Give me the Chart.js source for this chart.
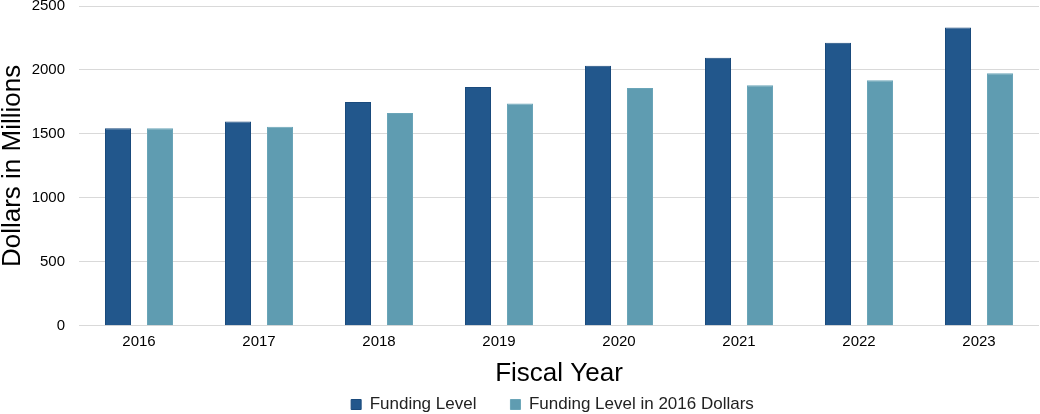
<!DOCTYPE html>
<html>
<head>
<meta charset="utf-8">
<script src="https://cdn.jsdelivr.net/npm/chart.js@4"></script>
<style>
html,body{margin:0;padding:0;background:#fff;overflow:hidden;}
#wrap{width:1040px;height:414px;overflow:hidden;position:relative;}
#c{position:absolute;left:0;top:-17px;}
</style>
</head>
<body>
<div id="wrap"><canvas id="c" width="1040" height="442"></canvas></div>
<script>
const categories = ["2016","2017","2018","2019","2020","2021","2022","2023"];
const fundingLevel = [1545, 1598, 1750, 1866, 2033, 2095, 2212, 2332];
const funding2016Dollars = [1545, 1557, 1663, 1737, 1858, 1880, 1920, 1975];
const yTicks = [0, 500, 1000, 1500, 2000, 2500];

Chart.defaults.font.family = "'Liberation Sans', Arial, sans-serif";
Chart.defaults.color = "#000";

const shiftLegend = {
  id: 'shiftLegend',
  afterLayout(chart) {
    if (chart.legend) { chart.legend.left += 33; chart.legend.right += 33; }
  }
};

new Chart(document.getElementById('c'), {
  type: 'bar',
  data: {
    labels: categories,
    datasets: [
      {label: 'Funding Level', data: fundingLevel, backgroundColor: '#22578c', borderColor: '#1a4a7c', borderWidth: 1, categoryPercentage: 0.7, barPercentage: 0.62},
      {label: 'Funding Level in 2016 Dollars', data: funding2016Dollars, backgroundColor: '#5f9cb1', borderColor: '#6aa5b8', borderWidth: 1, categoryPercentage: 0.7, barPercentage: 0.62}
    ]
  },
  plugins: [shiftLegend],
  options: {
    responsive: false,
    animation: false,
    devicePixelRatio: 1,
    layout: {padding: {left: 0, right: 1, top: 0, bottom: 2}},
    plugins: {
      legend: {
        position: 'bottom',
        labels: {font: {size: 17}, boxWidth: 10, boxHeight: 10, padding: 34, color: '#222'}
      },
      tooltip: {enabled: false}
    },
    scales: {
      x: {
        grid: {display: false, drawTicks: false},
        border: {display: false},
        ticks: {font: {size: 15}, padding: 7, color: '#000'},
        title: {display: true, text: 'Fiscal Year', font: {size: 26}, color: '#000', padding: {top: 0, bottom: -27}}
      },
      y: {
        min: 0, max: 2500,
        afterBuildTicks: (axis) => { axis.ticks = yTicks.map(v => ({value: v})); },
        afterFit: (axis) => { axis.width = 79; },
        grid: {color: '#d9d9d9', drawTicks: false},
        border: {display: false},
        ticks: {font: {size: 15}, padding: 14, color: '#000', callback: (v) => String(v)},
        title: {display: true, text: 'Dollars in Millions', font: {size: 26}, color: '#000', padding: {top: -3, bottom: 3}}
      }
    }
  }
});
</script>
</body>
</html>
